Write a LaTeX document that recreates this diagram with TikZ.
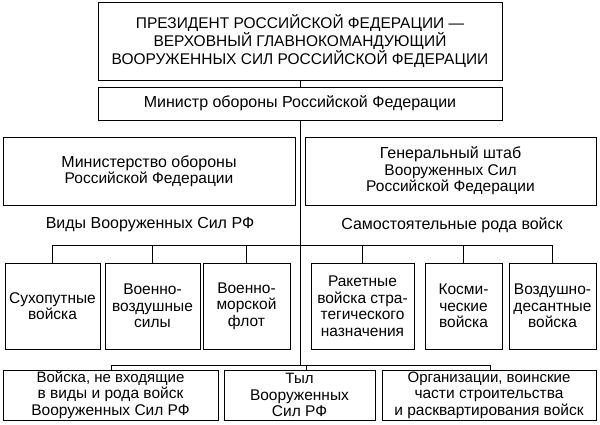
\documentclass[tikz,border=0pt]{standalone}
\usepackage{fontspec}
\setmainfont{Liberation Sans}
\begin{document}
\begin{tikzpicture}[x=1pt,y=-1pt,
 bx/.style={draw,line width=0.8pt,align=center,inner sep=0pt,font=\fontsize{15.5}{16.5}\selectfont},
 ln/.style={line width=0.8pt}]
\useasboundingbox (0,0) rectangle (600,424);
\def\B#1#2#3#4#5#6{\node[bx,minimum width=#4-#2,minimum height=#5-#3] (#1) at ({(#2+#4)/2},{(#3+#5)/2}) {#6};}
\B{pres}{98}{2}{502}{80}{\fontsize{15.5}{17.5}\selectfont ПРЕЗИДЕНТ РОССИЙСКОЙ ФЕДЕРАЦИИ —\\ВЕРХОВНЫЙ ГЛАВНОКОМАНДУЮЩИЙ\\ВООРУЖЕННЫХ СИЛ РОССИЙСКОЙ ФЕДЕРАЦИИ}
\B{min}{98}{87}{502}{120}{\fontsize{16}{16}\selectfont Министр обороны Российской Федерации}
\B{mo}{3}{137}{295}{205}{\fontsize{16}{17}\selectfont Министерство обороны\\Российской Федерации}
\B{gs}{305}{137}{596}{205}{\fontsize{16}{17}\selectfont Генеральный штаб\\Вооруженных Сил\\Российской Федерации}
\node[font=\fontsize{16}{16}\selectfont] (vl) at (150,225) {Виды Вооруженных Сил РФ};
\node[font=\fontsize{16}{16}\selectfont] (sl) at (452,225) {Самостоятельные рода войск};
\B{a1}{5}{263}{100}{349}{Сухопутные\\войска}
\B{a2}{105}{263}{200}{349}{Военно-\\воздушные\\силы}
\B{a3}{203}{263}{290}{349}{Военно-\\морской\\флот}
\B{b1}{311}{263}{414}{349}{Ракетные\\войска стра-\\тегического\\назначения}
\B{b2}{425}{263}{502}{349}{Косми-\\ческие\\войска}
\B{b3}{509}{263}{596}{349}{Воздушно-\\десантные\\войска}
\B{c1}{3}{370}{218}{420}{\fontsize{15}{15.5}\selectfont Войска, не входящие\\в виды и рода войск\\Вооруженных Сил РФ}
\B{c2}{224}{370}{375}{420}{\fontsize{15}{15.5}\selectfont Тыл\\Вооруженных\\Сил РФ}
\B{c3}{382}{370}{596}{420}{\fontsize{15}{15.5}\selectfont Организации, воинские\\части строительства\\и расквартирования войск}
\draw[ln] (pres.south) -- (min.north);
\coordinate (h1) at (300,245);
\coordinate (h2) at (300,365);
\draw[ln] (min.south) -- (h2);
\draw[ln] (a1.north) |- (b3.north |- h1) -- (b3.north);
\foreach \n in {a2,a3,b1,b2} \draw[ln] (\n.north) -- (\n.north |- h1);
\draw[ln] (c1.north -| 111,0) |- (490,365) -- (c3.north -| 490,0);
\draw[ln] (306,365) -- (306,370);
\end{tikzpicture}
\end{document}
